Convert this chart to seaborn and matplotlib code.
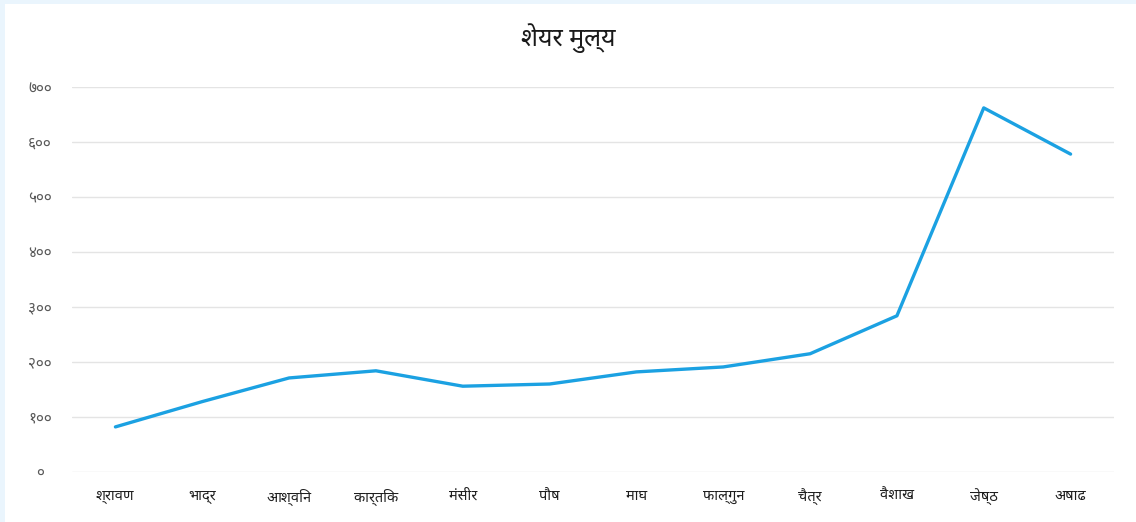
import numpy as np
import pandas as pd
import seaborn as sns
import matplotlib.pyplot as plt
from matplotlib import font_manager
from matplotlib.patches import Rectangle

months = ['श्रावण', 'भाद्र', 'आश्विन', 'कार्तिक', 'मंसीर', 'पौष',
          'माघ', 'फाल्गुन', 'चैत्र', 'वैशाख', 'जेष्ठ', 'अषाढ']
price = [82, 128, 171, 184, 156, 160, 182, 191, 215, 284, 662, 578]
y_ticks = [0, 100, 200, 300, 400, 500, 600, 700]
y_tick_labels = ['०', '१००', '२००', '३००', '४००', '५००', '६००', '७००']
title = 'शेयर मुल्य'

# pick a Devanagari family that is installed
installed = {f.name for f in font_manager.fontManager.ttflist}
wanted = ['Noto Sans Devanagari', 'Mukta', 'Hind', 'Amiko', 'Arya', 'FreeSans']
families = [f for f in wanted if f in installed][:1] + ['DejaVu Sans']

sns.set_theme(style='white')
plt.rcParams['font.family'] = families

df = pd.DataFrame({'pos': np.arange(len(months)), 'price': price})

fig = plt.figure(figsize=(11.36, 5.22), dpi=100)
fig.patch.set_facecolor('#eaf5fd')
fig.patches.append(Rectangle((5 / 1136, 0), 1, 1 - 4 / 522, transform=fig.transFigure,
                             facecolor='white', edgecolor='none', zorder=-5))
ax = fig.add_axes([72 / 1136, 1 - 472 / 522, (1114 - 72) / 1136, (472 - 87) / 522])
ax.set_facecolor('none')
ax.set_zorder(2)

sns.lineplot(data=df, x='pos', y='price', ax=ax, color='#1ba1e2', linewidth=2.4)

ax.set_xlim(-0.5, len(months) - 0.5)
ax.set_ylim(0, 700)
ax.set_yticks(y_ticks)
ax.set_yticklabels(y_tick_labels, color='#595959', fontsize=11)
ax.set_xticks(df['pos'])
ax.set_xticklabels(months, color='#1f1f1f', fontsize=10.5, fontweight='bold')
ax.tick_params(axis='x', length=0, pad=12)
ax.tick_params(axis='y', length=0, pad=23)
for lab in ax.get_yticklabels():
    lab.set_horizontalalignment('center')
ax.grid(axis='y', color='#e4e4e4', linewidth=1)
ax.set_axisbelow(True)
for s in ax.spines.values():
    s.set_visible(False)
ax.set_xlabel('')
ax.set_ylabel('')

fig.text(0.5, 1 - 38 / 522, title, ha='center', va='center', fontsize=18,
         fontweight='bold', color='#1a1a1a')

fig.savefig('out.png', dpi=100, facecolor=fig.get_facecolor())
